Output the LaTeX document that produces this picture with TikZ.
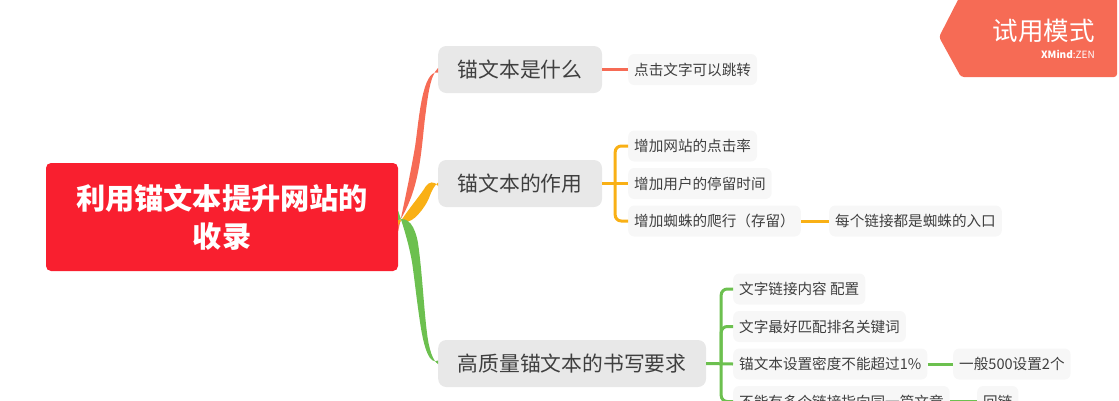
\documentclass[tikz,border=0pt]{standalone}
\usepackage{fontspec}
\setmainfont{Noto Sans CJK SC}
\definecolor{rootred}{HTML}{F91F2F}
\definecolor{salmon}{HTML}{F66B55}
\definecolor{amber}{HTML}{F9B015}
\definecolor{leafgreen}{HTML}{6CC04F}
\definecolor{inkgray}{HTML}{3F3F3F}
\tikzset{
  rootbox/.style={fill=rootred,rounded corners=5pt,text=white,font=\fontsize{29.2}{38}\selectfont\bfseries,
    align=center,minimum width=352pt,minimum height=108pt,inner sep=0pt},
  branchbox/.style={fill=black!9,rounded corners=8pt,text=inkgray,font=\fontsize{20.8}{25}\selectfont,
    anchor=west,minimum height=47pt,inner xsep=19.5pt,inner ysep=0pt},
  leafbox/.style={fill=black!3,rounded corners=6pt,text=inkgray,font=\fontsize{14.6}{18}\selectfont,
    anchor=west,minimum height=31pt,inner xsep=6pt,inner ysep=0pt},
  link/.style={line width=3pt,rounded corners=6pt},
}
\begin{document}
\begin{tikzpicture}[x=1pt,y=-1pt]
\useasboundingbox (0,0) rectangle (1119,400);
\clip (0,0) rectangle (1119,400);
% main nodes
\node (goal) [rootbox] at (222,217) {利用锚文本提升网站的\\收录};
\node (what) [branchbox] at (438,69.5) {锚文本是什么};
\node (role) [branchbox] at (438,183.5) {锚文本的作用};
\node (rules) [branchbox] at (438,363.5) {高质量锚文本的书写要求};
% leaves
\node (jump) [leafbox] at (628,69.5) {点击文字可以跳转};
\node (rate) [leafbox] at (628,146) {增加网站的点击率};
\node (stay) [leafbox] at (628,183.5) {增加用户的停留时间};
\node (crawl) [leafbox] at (628,221) {增加蜘蛛的爬行（存留）};
\node (entry) [leafbox] at (829,221) {每个链接都是蜘蛛的入口};
\node (config) [leafbox] at (733,289) {文字链接内容 配置};
\node (match) [leafbox] at (733,326.5) {文字最好匹配排名关键词};
\node (density) [leafbox] at (733,364) {锚文本设置密度不能超过1\%};
\node (count) [leafbox] at (953,364) {一般500设置2个};
\node (same) [leafbox] at (733,401.5) {不能有多个链接指向同一篇文章};
\node (back) [leafbox] at (977,401.5) {回链};
% tapered branches
\fill [salmon] ([yshift=-14pt]goal.east) .. controls (407,190) and (411,170) .. (415,147)
  .. controls (419,120) and (422,70) .. ([yshift=-3pt]what.west)
  -- ([yshift=1.5pt]what.west) .. controls (430,76) and (428,95) .. (425,118)
  .. controls (421,152) and (420,190) .. ([yshift=-6pt]goal.east) -- cycle;
\fill [amber] ([yshift=-8pt]goal.east) .. controls (412,204) and (420,196) .. (426,186)
  .. controls (429,182) and (434,180.5) .. ([yshift=-2.5pt]role.west)
  -- ([yshift=1pt]role.west) .. controls (434,186) and (432,190) .. (429,198)
  .. controls (425,208) and (412,224) .. (406,221) -- ([yshift=-3pt]goal.east) -- cycle;
\fill [leafgreen] ([yshift=-3pt]goal.east) .. controls (408,216) and (415,226) .. (418,243)
  .. controls (422,270) and (424,310) .. (427,333)
  .. controls (429,350) and (433,361) .. ([yshift=-0.5pt]rules.west)
  -- ([yshift=3pt]rules.west) .. controls (430,365) and (424,350) .. (420,322)
  .. controls (416,295) and (414,275) .. (412,262)
  .. controls (409,245) and (404,228) .. ([yshift=6pt]goal.east) -- cycle;
% connectors
\draw [link,salmon] (what.east) -- (jump.west);
\draw [link,amber] (role.east) -- (stay.west);
\draw [link,amber] ([xshift=13pt]role.east) |- (rate.west);
\draw [link,amber] ([xshift=13pt]role.east) |- (crawl.west);
\draw [link,amber] (crawl.east) -- (entry.west);
\draw [link,leafgreen] (rules.east) -- (density.west);
\draw [link,leafgreen] ([xshift=15pt]rules.east) |- (config.west);
\draw [link,leafgreen] ([xshift=15pt]rules.east) |- (match.west);
\draw [link,leafgreen] ([xshift=15pt]rules.east) |- (same.west);
\draw [link,leafgreen] (density.east) -- (count.west);
\draw [link,leafgreen] (same.east) -- (back.west);
% trial tag
\fill [salmon,rounded corners=3pt] (961,-6) -- (1117,-6) -- (1117,77) -- (961,77) -- (939,37) -- cycle;
\node (trial) [text=white,font=\fontsize{25.5}{30}\selectfont,anchor=east,inner sep=0pt] at (1095,31) {试用模式};
\node (brand) [text=white,font=\fontsize{10}{12}\selectfont,anchor=east,inner sep=0pt] at (1095,54) {\textbf{XMind}:ZEN};
\end{tikzpicture}
\end{document}
